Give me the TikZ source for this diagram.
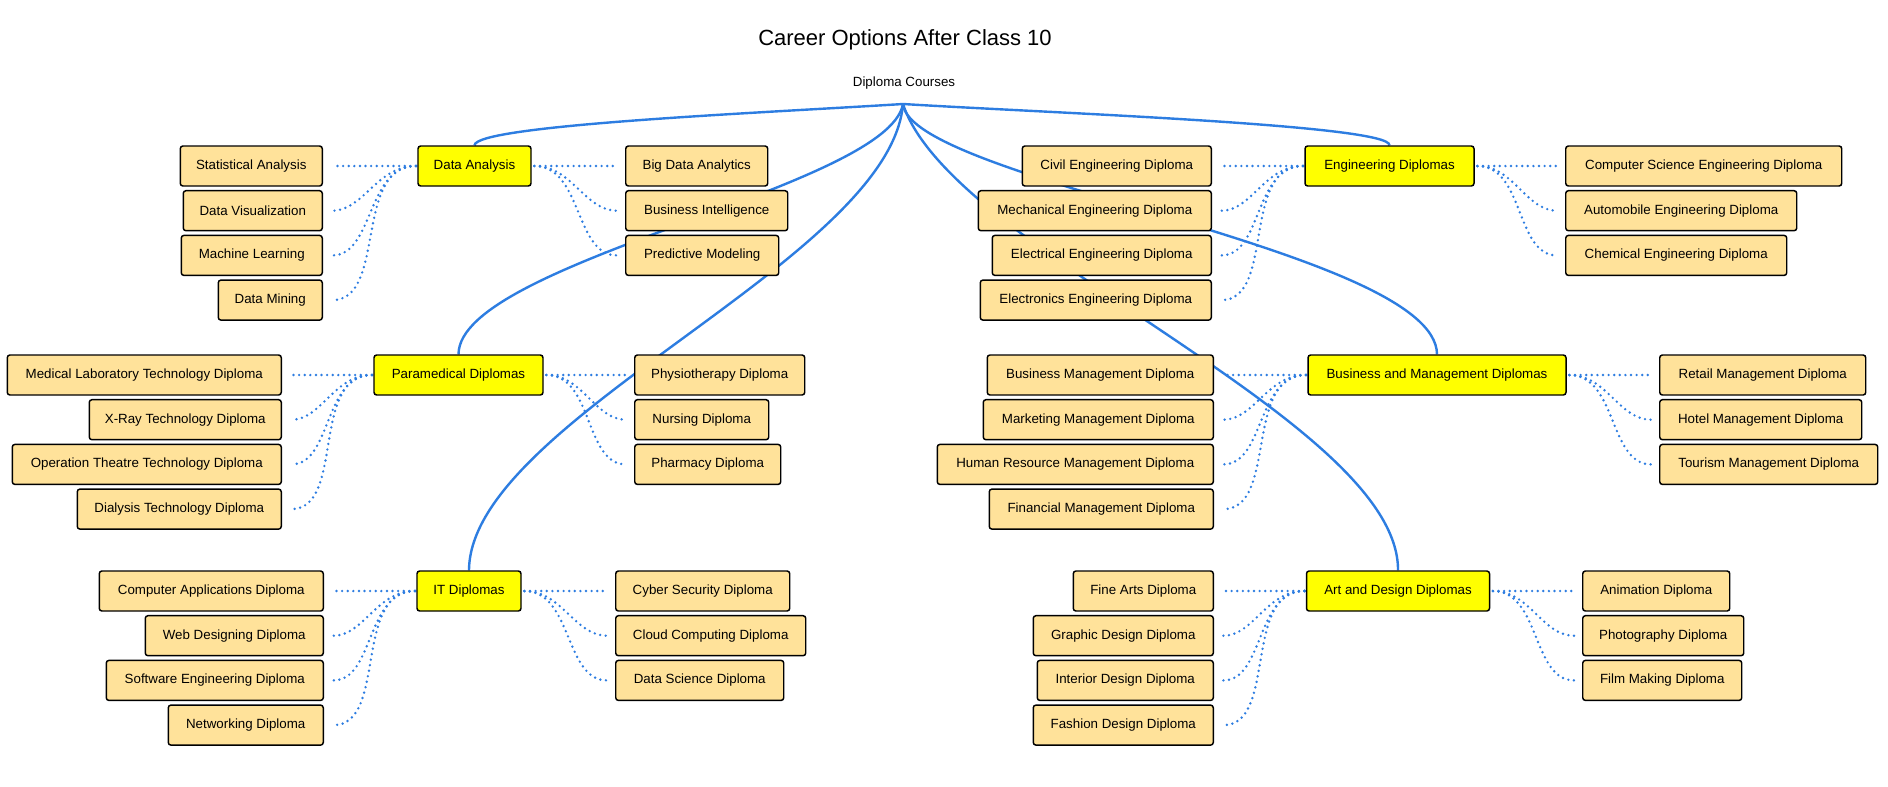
\documentclass[tikz,border=0pt]{standalone}
\usepackage{fontspec}
\setmainfont{Liberation Sans}
\usetikzlibrary{backgrounds}
\definecolor{lnk}{RGB}{45,125,225}
\definecolor{leafc}{RGB}{255,226,154}
\definecolor{grpc}{RGB}{255,255,0}
\begin{document}
\begin{tikzpicture}[x=0.75pt,y=-0.75pt,
  box/.style={draw=black, line width=1.1pt, rounded corners=2pt, minimum height=30pt,
    inner xsep=2pt, inner ysep=0pt, font=\fontsize{10}{12}\selectfont, text=black},
  leafbox/.style={box, fill=leafc},
  grpbox/.style={box, fill=grpc},
  wd/.style={minimum width=#1*0.75pt},
  lf/.style={leafbox, anchor=east},
  rt/.style={leafbox, anchor=west},
  mainline/.style={draw=lnk, line width=1.8pt},
  dotline/.style={draw=lnk, line width=2pt, line cap=round, dash pattern=on 0pt off 4.2pt},
  ldot/.style={dotline, shorten >=7pt, shorten <=1pt},
  rdot/.style={dotline, shorten >=6pt, shorten <=2pt}
]
\useasboundingbox (0,0) rectangle (1888,786);

% title
\node[font=\fontsize{16.5}{20}\selectfont] (title) at (905,40) {Career Options After Class 10};
\node[font=\fontsize{10}{12}\selectfont] (dc) at (904,83) {Diploma Courses};
\coordinate (root) at (903,104);

% Data Analysis group
\node[grpbox, wd=113] (da) at (474.5,166) {Data Analysis};
\node[lf, wd=142] (sa) at (323,166) {Statistical Analysis};
\node[lf, wd=139] (dv) at (323,210.7) {Data Visualization};
\node[lf, wd=141] (ml) at (323,255.4) {Machine Learning};
\node[lf, wd=104] (dm) at (323,300.1) {Data Mining};
\node[rt, wd=142] (bda) at (625,166) {Big Data Analytics};
\node[rt, wd=162] (bi) at (625,210.7) {Business Intelligence};
\node[rt, wd=153] (pm) at (625,255.4) {Predictive Modeling};

% Paramedical group
\node[grpbox, wd=169] (pd) at (458.5,375) {Paramedical Diplomas};
\node[lf, wd=274] (mlt) at (282,375) {Medical Laboratory Technology Diploma};
\node[lf, wd=192] (xr) at (282,419.7) {X-Ray Technology Diploma};
\node[lf, wd=269] (ot) at (282,464.4) {Operation Theatre Technology Diploma};
\node[lf, wd=204] (dt) at (282,509.1) {Dialysis Technology Diploma};
\node[rt, wd=170] (phy) at (634,375) {Physiotherapy Diploma};
\node[rt, wd=134] (nur) at (634,419.7) {Nursing Diploma};
\node[rt, wd=146] (pha) at (634,464.4) {Pharmacy Diploma};

% IT group
\node[grpbox, wd=104] (it) at (469,591) {IT Diplomas};
\node[lf, wd=224] (ca) at (324,591) {Computer Applications Diploma};
\node[lf, wd=178] (wdd) at (324,635.7) {Web Designing Diploma};
\node[lf, wd=217] (sed) at (324,680.4) {Software Engineering Diploma};
\node[lf, wd=155] (nw) at (324,725.1) {Networking Diploma};
\node[rt, wd=174] (cs) at (615,591) {Cyber Security Diploma};
\node[rt, wd=190] (cc) at (615,635.7) {Cloud Computing Diploma};
\node[rt, wd=168] (dsd) at (615,680.4) {Data Science Diploma};

% Engineering group
\node[grpbox, wd=169] (eng) at (1389.5,166) {Engineering Diplomas};
\node[lf, wd=189] (civ) at (1212,166) {Civil Engineering Diploma};
\node[lf, wd=233] (mech) at (1212,210.7) {Mechanical Engineering Diploma};
\node[lf, wd=219] (elec) at (1212,255.4) {Electrical Engineering Diploma};
\node[lf, wd=231] (elx) at (1212,300.1) {Electronics Engineering Diploma};
\node[rt, wd=276] (cse) at (1565,166) {Computer Science Engineering Diploma};
\node[rt, wd=231] (aut) at (1565,210.7) {Automobile Engineering Diploma};
\node[rt, wd=221] (che) at (1565,255.4) {Chemical Engineering Diploma};

% Business and Management group
\node[grpbox, wd=258] (bm) at (1437,375) {Business and Management Diplomas};
\node[lf, wd=226] (bmd) at (1214,375) {Business Management Diploma};
\node[lf, wd=230] (mmd) at (1214,419.7) {Marketing Management Diploma};
\node[lf, wd=276] (hrm) at (1214,464.4) {Human Resource Management Diploma};
\node[lf, wd=224] (fmd) at (1214,509.1) {Financial Management Diploma};
\node[rt, wd=206] (rmd) at (1659,375) {Retail Management Diploma};
\node[rt, wd=202] (hmd) at (1659,419.7) {Hotel Management Diploma};
\node[rt, wd=218] (tmd) at (1659,464.4) {Tourism Management Diploma};

% Art and Design group
\node[grpbox, wd=183] (ad) at (1398,591) {Art and Design Diplomas};
\node[lf, wd=140] (fa) at (1214,591) {Fine Arts Diploma};
\node[lf, wd=180] (gd) at (1214,635.7) {Graphic Design Diploma};
\node[lf, wd=176] (idd) at (1214,680.4) {Interior Design Diploma};
\node[lf, wd=180] (fd) at (1214,725.1) {Fashion Design Diploma};
\node[rt, wd=147] (ani) at (1582,591) {Animation Diploma};
\node[rt, wd=161] (pho) at (1582,635.7) {Photography Diploma};
\node[rt, wd=159] (fmk) at (1582,680.4) {Film Making Diploma};

\begin{scope}[on background layer]
\fill[white] (0,0) rectangle (1888,786);
% main curves
\draw[mainline] (root) .. controls (760,113) and (476,125) .. (da.north);
\draw[mainline] (root) .. controls (1050,113) and (1390,125) .. (eng.north);
\draw[mainline] (root) .. controls (888,188) and (459,262) .. (pd.north);
\draw[mainline] (root) .. controls (890,260) and (470,420) .. (it.north);
\draw[mainline] (root) .. controls (910,180) and (1436,250) .. (bm.north);
\draw[mainline] (root) .. controls (950,250) and (1399,420) .. (ad.north);
% dotted connectors
\foreach \p/\l in {da/sa,da/dv,da/ml,da/dm,pd/mlt,pd/xr,pd/ot,pd/dt,it/ca,it/wdd,it/sed,it/nw,
                   eng/civ,eng/mech,eng/elec,eng/elx,bm/bmd,bm/mmd,bm/hrm,bm/fmd,ad/fa,ad/gd,ad/idd,ad/fd}
  \draw[ldot] (\p.west) to[out=180,in=0] (\l.east);
\foreach \p/\r in {da/bda,da/bi,da/pm,pd/phy,pd/nur,pd/pha,it/cs,it/cc,it/dsd,
                   eng/cse,eng/aut,eng/che,bm/rmd,bm/hmd,bm/tmd,ad/ani,ad/pho,ad/fmk}
  \draw[rdot] (\p.east) to[out=0,in=180] (\r.west);
\end{scope}
\end{tikzpicture}
\end{document}
